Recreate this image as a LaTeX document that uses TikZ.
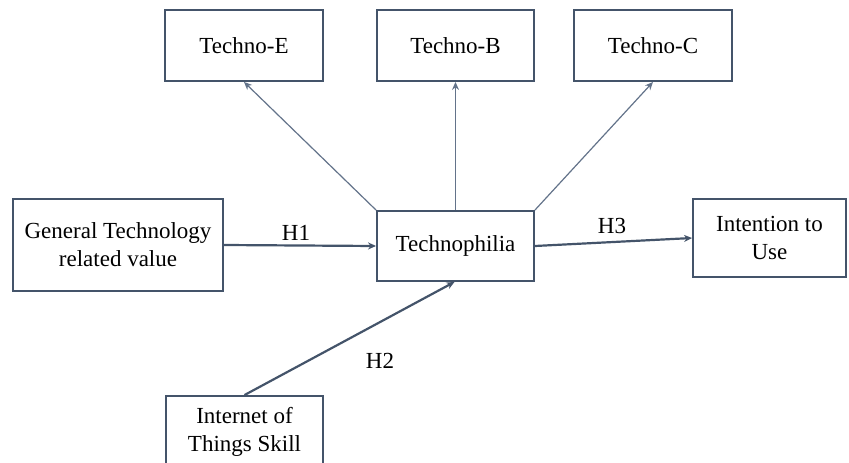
\documentclass[tikz,border=0pt]{standalone}
\usepackage{fontspec}
\setmainfont{Liberation Serif}
\usetikzlibrary{arrows.meta}
\definecolor{boxline}{HTML}{44546A}
\definecolor{thinline}{HTML}{63738A}
\begin{document}
\begin{tikzpicture}[x=1pt, y=-1pt,
        hyp/.style={draw=boxline, line width=2.2pt, -{Stealth[length=8pt,width=7pt]}},
        dim/.style={draw=thinline, line width=1.2pt, -{Stealth[length=8pt,width=7pt]}}]
            \useasboundingbox (0,0) rectangle (849,463);
            \clip (0,0) rectangle (849,463);
            \begin{scope}[every node/.style={draw=boxline, line width=1.9pt, inner sep=0pt, align=center,
                    font=\fontsize{23}{28}\selectfont}]

                \node[minimum width=158pt, minimum height=71pt] (teche) at (244,45.5) {Techno-E};
                \node[minimum width=157pt, minimum height=71pt] (techb) at (455.5,45.5) {Techno-B};
                \node[minimum width=158pt, minimum height=71pt] (techc) at (653,45.5) {Techno-C};
                \node[minimum width=210pt, minimum height=92pt] (gen) at (118,245) {General Technology\\related value};
                \node[minimum width=157pt, minimum height=70pt] (tphil) at (455.5,246) {Technophilia};
                \node[minimum width=153pt, minimum height=78pt] (intent) at (769.5,238) {Intention to\\Use};
                \node[minimum width=157pt, minimum height=72pt] (iot) at (244.5,432) {Internet of\\Things Skill};

            \end{scope}
            \draw[dim] (tphil.north west) -- (teche.south);
            \draw[dim] (tphil.north) -- (techb.south);
            \draw[dim] (tphil.north east) -- (techc.south);
            \draw[hyp] (gen.east) -- (tphil.west);
            \draw[hyp] (iot.north) -- ([xshift=-1pt]tphil.south);
            \draw[hyp] (tphil.east) -- (intent.west);
            \begin{scope}[every node/.style={font=\fontsize{23}{28}\selectfont}]
                \node (h1) at (296,233) {H1};
                \node (h2) at (380,361) {H2};
                \node (h3) at (612,226) {H3};
            \end{scope}

        \end{tikzpicture}
\end{document}
